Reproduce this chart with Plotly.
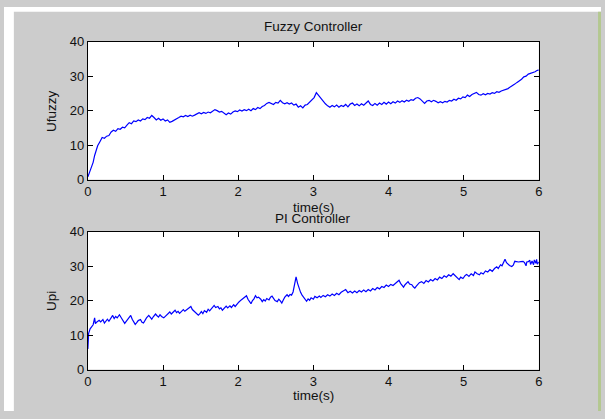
import plotly.graph_objects as go

# ---------------- data ----------------
fuzzy_t = [0.00,0.03,0.05,0.07,0.09,0.11,0.13,0.16,0.19,0.22,0.25,0.28,0.31,0.34,0.37,0.40,0.43,0.46,0.49,0.52,
           0.55,0.58,0.61,0.64,0.67,0.70,0.73,0.76,0.79,0.82,0.85,0.88,0.91,0.94,0.97,1.00,1.03,1.06,1.09,1.12,
           1.15,1.18,1.21,1.24,1.27,1.30,1.33,1.36,1.39,1.42,1.45,1.48,1.51,1.54,1.57,1.60,1.63,1.66,1.69,1.72,
           1.75,1.78,1.81,1.84,1.87,1.90,1.93,1.96,1.99,2.02,2.05,2.08,2.11,2.14,2.17,2.20,2.23,2.26,2.29,2.32,
           2.35,2.38,2.41,2.44,2.47,2.50,2.53,2.56,2.59,2.62,2.65,2.68,2.71,2.74,2.77,2.80,2.83,2.86,2.89,2.92,
           2.95,2.98,3.01,3.04,3.07,3.10,3.13,3.16,3.19,3.22,3.25,3.28,3.31,3.34,3.37,3.40,3.43,3.46,3.49,3.52,
           3.55,3.58,3.61,3.64,3.67,3.70,3.73,3.76,3.79,3.82,3.85,3.88,3.91,3.94,3.97,4.00,4.03,4.06,4.09,4.12,
           4.15,4.18,4.21,4.24,4.27,4.30,4.33,4.36,4.39,4.42,4.45,4.48,4.51,4.54,4.57,4.60,4.63,4.66,4.69,4.72,
           4.75,4.78,4.81,4.84,4.87,4.90,4.93,4.96,4.99,5.02,5.05,5.08,5.11,5.14,5.17,5.20,5.23,5.26,5.29,5.32,
           5.35,5.38,5.41,5.44,5.47,5.50,5.53,5.56,5.59,5.62,5.65,5.68,5.71,5.74,5.77,5.80,5.83,5.86,5.89,5.92,
           5.95,5.98,6.00]
fuzzy_u = [0.8,2.5,4.0,5.0,7.0,8.5,9.8,11.0,12.2,12.0,12.6,12.8,13.8,14.3,14.0,14.8,14.6,15.2,15.0,15.8,
           16.5,16.2,17.0,16.8,17.3,17.0,17.6,17.4,18.0,17.8,18.6,18.0,17.3,17.8,17.2,17.6,17.0,17.3,16.6,16.9,
           17.2,17.7,18.0,18.4,18.2,18.6,18.3,18.7,18.4,18.7,19.0,19.4,19.1,19.5,19.2,19.6,19.4,19.8,20.3,20.0,
           19.6,19.8,19.2,18.8,19.3,19.0,19.6,19.9,19.7,20.2,19.9,20.3,20.0,20.4,20.0,20.6,20.3,20.9,20.6,21.2,
           21.5,22.1,22.4,22.0,21.8,22.4,22.2,23.0,22.3,22.0,22.3,21.9,22.2,21.6,21.9,21.0,21.4,20.8,21.6,21.8,
           22.4,23.0,23.8,25.2,24.4,23.6,22.6,22.0,21.4,21.0,21.5,21.1,21.6,21.0,21.5,21.2,21.8,21.1,21.9,22.2,
           21.5,21.9,21.4,22.0,21.6,22.2,22.8,21.8,21.5,22.1,21.6,22.2,21.8,22.4,21.9,22.5,22.0,22.6,22.2,22.8,
           22.4,22.9,22.5,23.0,22.7,23.2,23.0,23.6,23.8,23.4,22.6,22.1,22.8,23.0,22.6,23.0,22.7,22.3,22.6,22.3,
           22.7,22.5,23.0,22.8,23.3,23.0,23.6,23.4,24.0,23.8,24.5,24.1,24.7,24.9,25.3,24.7,24.5,24.9,24.6,25.0,
           24.8,25.2,25.0,25.5,25.3,25.7,25.9,26.2,26.4,26.9,27.2,27.7,28.2,28.6,29.1,29.8,30.0,30.6,30.8,31.2,
           31.3,31.7,31.8]

pi_t = [0.00,0.01,0.03,0.05,0.07,0.09,0.10,0.12,0.15,0.17,0.20,0.22,0.24,0.26,0.28,0.30,0.33,0.35,0.37,0.39,
        0.42,0.45,0.47,0.49,0.51,0.54,0.57,0.59,0.61,0.63,0.65,0.67,0.70,0.72,0.74,0.76,0.78,0.81,0.83,0.85,
        0.87,0.90,0.92,0.94,0.96,0.98,1.01,1.03,1.06,1.09,1.11,1.13,1.16,1.18,1.20,1.22,1.25,1.27,1.29,1.31,
        1.34,1.37,1.39,1.42,1.44,1.47,1.49,1.51,1.53,1.55,1.58,1.60,1.62,1.65,1.68,1.70,1.73,1.75,1.77,1.79,
        1.82,1.84,1.86,1.89,1.91,1.94,1.96,1.99,2.01,2.04,2.06,2.09,2.11,2.13,2.15,2.17,2.19,2.21,2.23,2.25,
        2.27,2.30,2.32,2.34,2.36,2.38,2.41,2.43,2.45,2.47,2.49,2.52,2.54,2.56,2.58,2.60,2.62,2.65,2.67,2.69,
        2.71,2.73,2.75,2.77,2.79,2.81,2.83,2.85,2.87,2.89,2.91,2.93,2.95,2.97,3.00,3.02,3.05,3.08,3.10,3.13,
        3.16,3.19,3.22,3.25,3.28,3.31,3.34,3.37,3.40,3.43,3.46,3.49,3.52,3.55,3.58,3.61,3.64,3.67,3.70,3.73,
        3.76,3.79,3.82,3.85,3.88,3.91,3.94,3.97,4.00,4.03,4.06,4.09,4.12,4.14,4.16,4.18,4.20,4.22,4.24,4.26,
        4.28,4.31,4.33,4.35,4.37,4.39,4.41,4.44,4.47,4.50,4.53,4.56,4.59,4.62,4.65,4.68,4.71,4.74,4.77,4.80,
        4.83,4.86,4.88,4.90,4.92,4.94,4.96,4.99,5.02,5.04,5.07,5.10,5.13,5.15,5.18,5.21,5.23,5.26,5.29,5.32,
        5.35,5.38,5.41,5.44,5.46,5.49,5.51,5.53,5.55,5.57,5.59,5.61,5.64,5.66,5.68,5.70,5.73,5.76,5.79,5.81,
        5.83,5.84,5.86,5.88,5.89,5.91,5.93,5.94,5.96,5.97,5.98,6.00]
pi_u = [6.0,10.5,11.8,12.5,13.0,15.0,13.3,13.8,14.3,13.8,14.5,13.5,14.2,14.6,14.0,14.8,15.7,14.8,15.4,15.0,
        15.9,14.8,14.2,13.4,14.0,14.7,15.7,14.6,13.9,13.1,13.6,14.2,14.5,13.7,13.5,14.3,15.0,15.7,15.0,14.6,
        15.3,16.1,15.6,15.2,15.9,15.4,15.0,15.4,16.0,16.7,16.1,16.6,17.2,16.5,16.9,16.3,16.9,17.4,16.9,17.3,
        17.8,18.3,17.4,16.8,16.4,15.8,16.2,16.8,16.2,17.1,16.6,17.5,17.0,17.8,18.6,18.0,18.3,17.6,17.9,17.2,
        17.9,18.4,17.9,18.5,18.0,18.8,18.3,19.2,19.6,20.2,20.6,21.0,21.4,20.4,19.6,19.1,20.0,20.5,21.4,20.8,
        21.0,20.4,19.7,20.3,19.9,20.6,20.2,21.0,21.3,20.5,20.0,19.7,20.4,19.9,19.3,20.2,21.0,21.7,21.2,21.8,
        21.6,22.5,25.0,26.9,25.0,23.6,22.4,21.6,20.9,20.4,19.8,20.5,20.1,20.8,20.4,21.2,20.8,21.3,20.9,21.5,
        21.1,21.7,21.3,21.9,21.5,22.1,21.7,22.4,22.9,23.2,22.3,22.7,22.2,22.8,22.3,22.9,22.5,23.1,22.6,23.2,
        22.8,23.5,23.1,23.8,23.4,24.1,23.8,24.5,24.1,24.7,24.4,25.0,25.4,25.9,25.0,24.5,23.9,24.6,25.2,25.5,
        24.8,24.6,24.0,23.6,24.2,24.8,25.2,25.5,25.0,25.8,25.4,26.1,25.7,26.4,26.0,26.8,26.4,27.2,26.8,27.5,
        27.1,27.8,27.4,26.8,26.4,26.1,26.8,26.4,27.3,27.6,27.0,27.8,27.3,28.3,27.8,27.5,28.1,27.7,28.6,28.3,
        29.0,28.5,29.3,29.8,29.3,30.4,30.1,31.0,32.0,31.0,30.5,30.2,29.9,30.3,31.4,31.3,31.2,31.3,31.4,31.0,
        30.1,31.2,31.3,31.7,30.5,31.5,30.4,31.8,30.8,32.0,30.6,31.2]

x_ticks = [0, 1, 2, 3, 4, 5, 6]
y_ticks = [0, 10, 20, 30, 40]

titles = ["Fuzzy Controller", "PI Controller"]
ylabels = ["Ufuzzy", "Upi"]
xlabel = "time(s)"

# ---------------- figure ----------------
W, H = 605, 419
FONT = "Liberation Sans, Arial, sans-serif"

def px(x):
    return x / W

def py(y):
    return 1 - y / H

fig = go.Figure()
fig.add_trace(go.Scatter(x=fuzzy_t, y=fuzzy_u, mode="lines",
                         line=dict(color="#0000ff", width=1.2), xaxis="x", yaxis="y"))
fig.add_trace(go.Scatter(x=pi_t, y=pi_u, mode="lines",
                         line=dict(color="#0000ff", width=1.2), xaxis="x2", yaxis="y2"))

ax_common = dict(showline=True, linecolor="black", linewidth=1, mirror="ticks",
                 ticks="inside", ticklen=5, tickcolor="black", tickwidth=1,
                 showgrid=False, zeroline=False,
                 tickfont=dict(family=FONT, size=13, color="#111111"))

xdom = [px(85), px(542)]
fig.update_layout(
    width=W, height=H,
    margin=dict(l=0, r=0, t=0, b=0),
    paper_bgcolor="#cccccc",
    plot_bgcolor="white",
    showlegend=False,
    xaxis=dict(domain=xdom, range=[0, 6], tickvals=x_ticks, anchor="y", **ax_common),
    yaxis=dict(domain=[py(179), py(36)], range=[0, 40], tickvals=y_ticks, anchor="x", **ax_common),
    xaxis2=dict(domain=xdom, range=[0, 6], tickvals=x_ticks, anchor="y2", **ax_common),
    yaxis2=dict(domain=[py(376), py(233)], range=[0, 40], tickvals=y_ticks, anchor="x2", **ax_common),
)

# window edges
fig.add_shape(type="rect", xref="paper", yref="paper", x0=0, x1=px(10), y0=0, y1=1,
              fillcolor="white", line=dict(width=0), layer="below")
fig.add_shape(type="rect", xref="paper", yref="paper", x0=0, x1=1, y0=py(5), y1=1,
              fillcolor="white", line=dict(width=0), layer="below")
fig.add_shape(type="rect", xref="paper", yref="paper", x0=px(602), x1=1, y0=0, y1=py(5),
              fillcolor="#b4c890", line=dict(width=0), layer="below")

cx = px((85 + 542) / 2)
tfont = dict(family=FONT, size=13.5, color="#111111")
anns = [
    dict(text=titles[0], x=cx, y=py(20)),
    dict(text=xlabel, x=cx, y=py(208)),
    dict(text=titles[1], x=cx, y=py(219)),
    dict(text=xlabel, x=cx, y=py(403)),
    dict(text=ylabels[0], x=px(48), y=py(107.5), textangle=-90),
    dict(text=ylabels[1], x=px(48), y=py(304.5), textangle=-90),
]
for a in anns:
    fig.add_annotation(xref="paper", yref="paper", showarrow=False,
                       xanchor="center", yanchor="middle", font=tfont, **a)

fig.write_html("out.html")
